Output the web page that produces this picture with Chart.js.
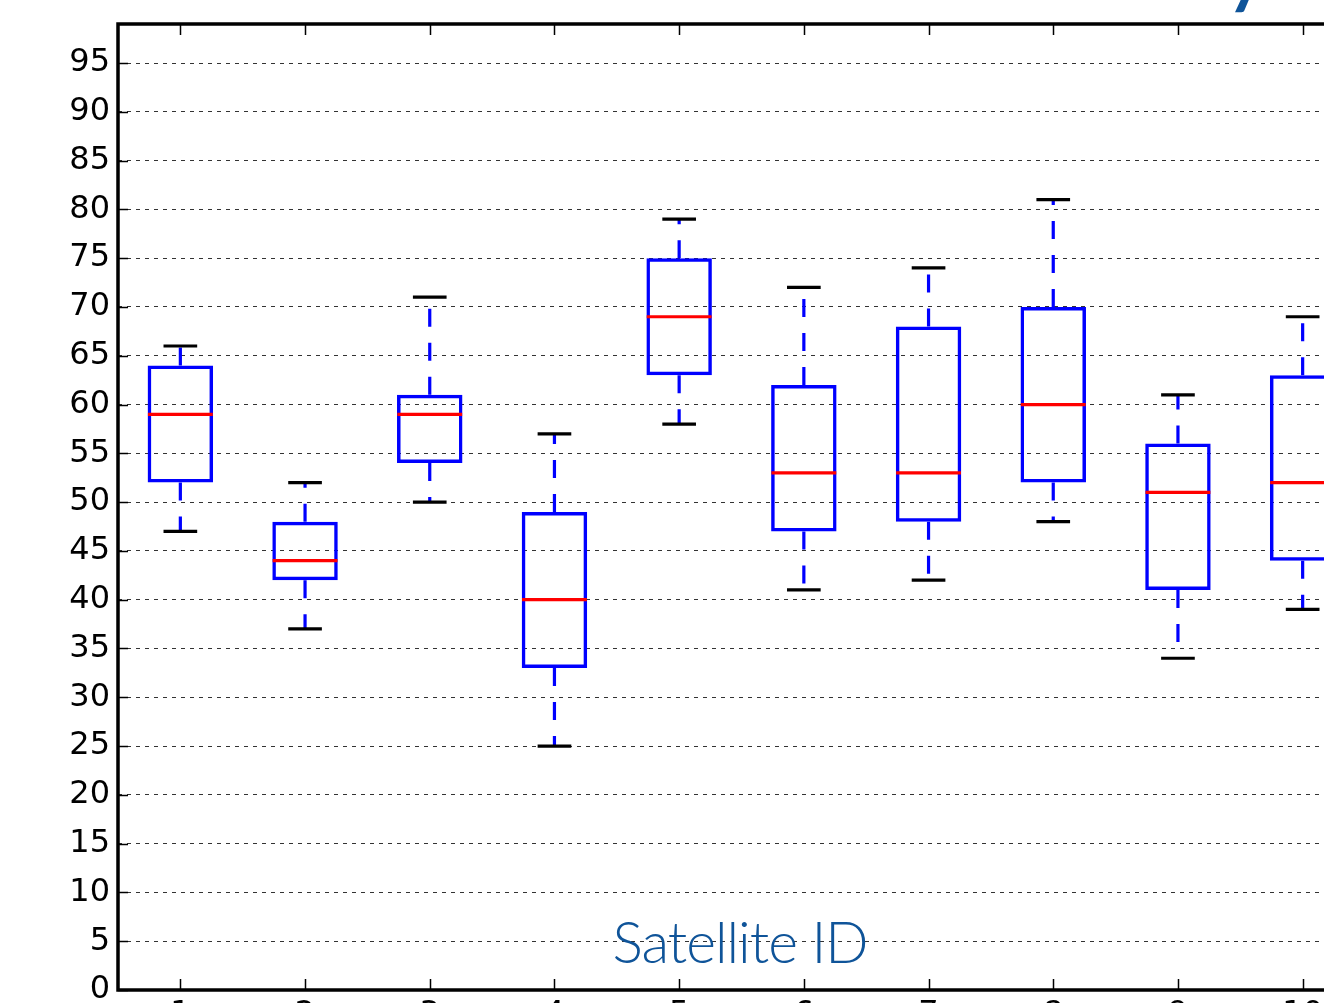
<!DOCTYPE html>
<html>
<head>
<meta charset="utf-8">
<script src="https://cdn.jsdelivr.net/npm/chart.js@4/dist/chart.umd.min.js"></script>
<style>
  html, body { margin: 0; padding: 0; background: #fff; overflow: hidden; width: 1324px; height: 1003px; }
  #wrap { position: relative; width: 1324px; height: 1003px; overflow: hidden; }
  canvas { position: absolute; left: 0; top: 0; }
  #xtitle { position: absolute; left: 540px; width: 400px; top: 913px; text-align: center;
    font-family: Lato, "Open Sans", sans-serif; font-weight: 300; font-size: 57px; line-height: 56px;
    letter-spacing: -1px; color: #0f5499; white-space: nowrap; }
  #toptitle { position: absolute; right: 60px; top: -62px; font-family: Lato, sans-serif; font-weight: bold;
    font-size: 70px; line-height: 70px; color: #0f5499; white-space: nowrap; }
</style>
</head>
<body>
<div id="wrap">
  <canvas id="c" width="1365" height="1040" style="width:1365px;height:1040px"></canvas>
  <div id="toptitle">y</div>
  <div id="xtitle">Satellite ID</div>
</div>
<script>
const categories = ['1','2','3','4','5','6','7','8','9','10'];
const whiskerLow  = [47, 37, 50, 25, 58, 41, 42, 48, 34, 39];
const q1          = [52, 42, 54, 33, 63, 47, 48, 52, 41, 44];
const medianVals  = [59, 44, 59, 40, 69, 53, 53, 60, 51, 52];
const q3          = [64, 48, 61, 49, 75, 62, 68, 70, 56, 63];
const whiskerHigh = [66, 52, 71, 57, 79, 72, 74, 81, 61, 69];
const yTickValues = [0,5,10,15,20,25,30,35,40,45,50,55,60,65,70,75,80,85,90,95];

const boxPlugin = {
  id: 'boxparts',
  afterDatasetsDraw(chart) {
    const ctx = chart.ctx;
    const xs = chart.scales.x, ys = chart.scales.y;
    const unit = xs.getPixelForValue(1) - xs.getPixelForValue(0);
    ctx.save();
    for (let i = 0; i < categories.length; i++) {
      const cx = xs.getPixelForValue(i);
      // whiskers (dashed blue), drawn from box outward
      ctx.strokeStyle = '#0000ff';
      ctx.lineWidth = 3.2;
      ctx.setLineDash([18, 16]);
      ctx.beginPath();
      ctx.moveTo(cx, ys.getPixelForValue(q3[i]));
      ctx.lineTo(cx, ys.getPixelForValue(whiskerHigh[i]));
      ctx.stroke();
      ctx.beginPath();
      ctx.moveTo(cx, ys.getPixelForValue(q1[i]));
      ctx.lineTo(cx, ys.getPixelForValue(whiskerLow[i]));
      ctx.stroke();
      ctx.setLineDash([]);
      // caps (black)
      const hw = unit * 0.135;
      ctx.strokeStyle = '#000';
      ctx.lineWidth = 3.2;
      [whiskerHigh[i], whiskerLow[i]].forEach(v => {
        const py = ys.getPixelForValue(v);
        ctx.beginPath();
        ctx.moveTo(cx - hw, py);
        ctx.lineTo(cx + hw, py);
        ctx.stroke();
      });
      // median (red)
      const bw = unit * 0.26;
      const my = ys.getPixelForValue(medianVals[i]);
      ctx.strokeStyle = '#ff0000';
      ctx.lineWidth = 3.2;
      ctx.beginPath();
      ctx.moveTo(cx - bw, my);
      ctx.lineTo(cx + bw, my);
      ctx.stroke();
    }
    ctx.restore();
  },
  afterDraw(chart) {
    const ctx = chart.ctx;
    const a = chart.chartArea;
    const xs = chart.scales.x, ys = chart.scales.y;
    ctx.save();
    // inward ticks
    ctx.strokeStyle = '#000';
    ctx.lineWidth = 1.5;
    for (let i = 0; i < categories.length; i++) {
      const px = Math.round(xs.getPixelForValue(i)) + 0.5;
      ctx.beginPath();
      ctx.moveTo(px, a.top); ctx.lineTo(px, a.top + 11);
      ctx.moveTo(px, a.bottom); ctx.lineTo(px, a.bottom - 11);
      ctx.stroke();
    }
    yTickValues.forEach(v => {
      const py = Math.round(ys.getPixelForValue(v)) + 0.5;
      ctx.beginPath();
      ctx.moveTo(a.left, py); ctx.lineTo(a.left + 10, py);
      ctx.stroke();
    });
    // frame
    ctx.lineWidth = 3.5;
    ctx.strokeRect(a.left, a.top, a.right - a.left, a.bottom - a.top);
    ctx.restore();
  }
};

new Chart(document.getElementById('c'), {
  type: 'bar',
  data: {
    labels: categories,
    datasets: [{
      label: 'IQR',
      data: q1.map((v, i) => [v, q3[i]]),
      backgroundColor: 'rgba(0,0,0,0)',
      borderColor: '#0000ff',
      borderWidth: 3.5,
      borderSkipped: false,
      categoryPercentage: 1.0,
      barPercentage: 0.525
    }]
  },
  options: {
    responsive: false,
    animation: false,
    devicePixelRatio: 1,
    layout: { padding: { top: 24, left: 0, right: 0, bottom: 0 } },
    plugins: { legend: { display: false }, tooltip: { enabled: false }, title: { display: false } },
    scales: {
      x: {
        type: 'category',
        offset: true,
        grid: { display: false, drawTicks: false },
        border: { display: false },
        ticks: { color: '#000', font: { family: 'DejaVu Sans', size: 32 }, padding: 5, maxRotation: 0, autoSkip: false },
        afterFit(s) { s.height = 50; s.paddingLeft = 0; s.paddingRight = 0; }
      },
      y: {
        min: 0, max: 99,
        z: 1,
        grid: {
          drawTicks: false,
          lineWidth: 1,
          color: ctx => (ctx.tick && ctx.tick.value > 0 && ctx.tick.value % 5 === 0) ? '#333333' : 'rgba(0,0,0,0)'
        },
        border: { display: false, dash: [4, 5] },
        ticks: { stepSize: 5, color: '#000', font: { family: 'DejaVu Sans', size: 32 }, padding: 8 },
        afterBuildTicks(s) { s.ticks = s.ticks.filter(t => yTickValues.includes(t.value)); },
        afterFit(s) { s.width = 118; s.paddingTop = 0; s.paddingBottom = 0; }
      }
    }
  },
  plugins: [boxPlugin]
});
</script>
</body>
</html>
